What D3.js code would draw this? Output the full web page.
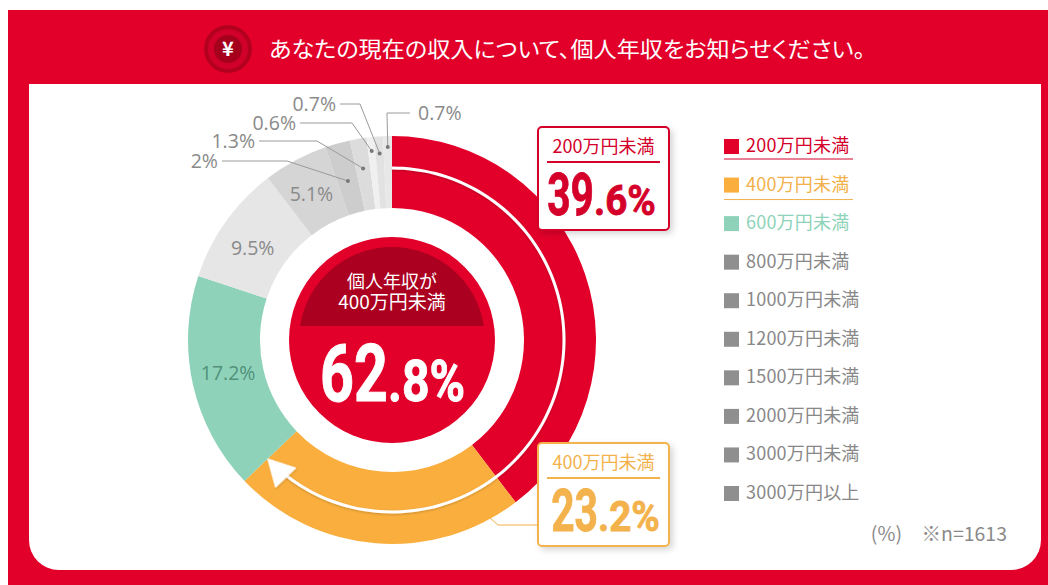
<!DOCTYPE html>
<html><head><meta charset="utf-8">
<style>html,body{margin:0;padding:0;background:#fff;overflow:hidden}svg{display:block}
text{font-family:"Noto Sans CJK JP","Noto Sans",sans-serif}
text.num{font-family:"Open Sans","Noto Sans",sans-serif}
text.big{font-family:"Roboto",sans-serif;font-weight:700}</style>
<script src="https://cdnjs.cloudflare.com/ajax/libs/d3/7.8.5/d3.min.js"></script>
</head><body><svg id="c" width="1048" height="585"></svg>
<script>
const categories=["200万円未満","400万円未満","600万円未満","800万円未満","1000万円未満","1200万円未満","1500万円未満","2000万円未満","3000万円未満","3000万円以上"];
const values=[39.6,23.2,17.2,9.5,5.1,2,1.3,0.6,0.7,0.7];
const sliceColors=["#e2002a","#f9ae3d","#8ed3b9","#e6e6e6","#d5d5d5","#cdcdcd","#dcdcdc","#f0f0f0","#e2e2e2","#e8e8e8"];
const legendColors=["#e2002a","#f9ae3d","#8ed3b9","#8f8f8f","#8f8f8f","#8f8f8f","#8f8f8f","#8f8f8f","#8f8f8f","#8f8f8f"];
const legendTextColors=["#d4002a","#f2b04a","#8ed3b9","#888888","#888888","#888888","#888888","#888888","#888888","#888888"];
const title="あなたの現在の収入について、個人年収をお知らせください。";
const centerLines=["個人年収が","400万円未満"];
const centerValue=["62",".8%"];
const note="(%)　※n=1613";

const svg=d3.select("#c");
const defs=svg.append("defs");
const f=defs.append("filter").attr("id","sh").attr("x","-20%").attr("y","-20%").attr("width","150%").attr("height","150%");
f.append("feDropShadow").attr("dx",3).attr("dy",3).attr("stdDeviation",3).attr("flood-color","#000").attr("flood-opacity",.16);
const f2=defs.append("filter").attr("id","sh2").attr("x","-20%").attr("y","-20%").attr("width","140%").attr("height","140%");
f2.append("feDropShadow").attr("dx",0).attr("dy",1).attr("stdDeviation",1).attr("flood-color","#000").attr("flood-opacity",.2);

svg.append("rect").attr("x",8).attr("y",10).attr("width",1040).attr("height",575).attr("fill","#e2002a");
svg.append("path").attr("d","M29,84H1041V540A30,30 0 0 1 1011,570H59A30,30 0 0 1 29,540Z").attr("fill","#fff");

// header
const hx=228,hy=49;
svg.append("circle").attr("cx",hx).attr("cy",hy).attr("r",24).attr("fill","#b4001f");
svg.append("circle").attr("cx",hx).attr("cy",hy).attr("r",20).attr("fill","#d0002a");
svg.append("circle").attr("cx",hx).attr("cy",hy).attr("r",14).attr("fill","#a5001c");
svg.append("text").attr("x",hx).attr("y",hy+7).attr("text-anchor","middle").attr("fill","#fff").attr("font-size",20).attr("font-weight",700).text("¥");
svg.append("text").attr("x",269).attr("y",hy+8).style("font-feature-settings","'palt'").attr("fill","#fff").attr("font-size",22).attr("textLength",596).attr("lengthAdjust","spacingAndGlyphs").text(title);

// donut
const cx=392,cy=340,R=204,r0=132;
const pie=d3.pie().sort(null).value(d=>d)(values);
const arc=d3.arc().innerRadius(r0).outerRadius(R);
const g=svg.append("g").attr("transform",`translate(${cx},${cy})`);
g.selectAll("path.s").data(pie).join("path").attr("class","s").attr("d",arc).attr("fill",(d,i)=>sliceColors[i]);

const gray="#8a8a8a";
// inside labels: slice index, radius, nudges, colour
[[2,168,0,-4,"#52907a"],[3,166,-4,4,gray],[4,168,-1,2,gray]].forEach(([i,rad,nx,ny,col])=>{
  const [x,y]=d3.pointRadial((pie[i].startAngle+pie[i].endAngle)/2,rad);
  g.append("text").attr("class","num").attr("x",x+nx).attr("y",y+ny+7).attr("text-anchor","middle")
   .attr("font-size",19.5).attr("fill",col).text(values[i]+"%");
});

// leader lines for small slices
const leaders=[[5,165,287,161,222,"end"],[6,174,317,141,259,"end"],[7,190,352,123,300,"end"],[8,187,360,104,340,"end"],[9,193,387,113,410,"start"]];
leaders.forEach(([i,rad,ex,ey,lx,anc])=>{
  const mid=(pie[i].startAngle+pie[i].endAngle)/2;
  const [px,py]=d3.pointRadial(mid,rad);
  const dx=cx+px,dy=cy+py;
  svg.append("path").attr("d",d3.line()([[lx,ey],[ex,ey],[dx,dy]])).attr("fill","none").attr("stroke","#9a9a9a").attr("stroke-width",1);
  svg.append("circle").attr("cx",dx).attr("cy",dy).attr("r",2).attr("fill","#777");
  svg.append("text").attr("class","num").attr("x",anc==="end"?lx-4:lx+8).attr("y",ey+7).attr("text-anchor",anc)
    .attr("font-size",19.5).attr("fill",gray).text(values[i]+"%");
});

// white arrow along first two slices
const endA=pie[1].endAngle, ra=172;
const arrowPts=d3.range(0,61).map(k=>k/60*(endA-0.13));
g.append("path").attr("d",d3.lineRadial().angle(d=>d).radius(ra).curve(d3.curveCatmullRom)(arrowPts))
 .attr("fill","none").attr("stroke","#fff").attr("stroke-width",3).attr("filter","url(#sh2)");
const [tx,ty]=d3.pointRadial(endA,ra);
g.append("path").attr("transform",`translate(${tx},${ty}) rotate(${endA*180/Math.PI+90})`)
 .attr("d","M0,0L-14,26L14,26Z").attr("fill","#fff").attr("stroke","#fff").attr("stroke-width",1).attr("stroke-linejoin","round").attr("filter","url(#sh2)");

// centre
g.append("circle").attr("r",103).attr("fill","#e2002a");
const chord=14, rc=93, hw=Math.sqrt(rc*rc-chord*chord);
g.append("path").attr("d",`M${-hw},${-chord}A${rc},${rc} 0 0 1 ${hw},${-chord}Z`).attr("fill","#ab001f");
svg.append("text").attr("x",cx).attr("y",288).attr("text-anchor","middle").attr("fill","#fff").attr("font-size",18).text(centerLines[0]);
svg.append("text").attr("x",cx).attr("y",309).attr("text-anchor","middle").attr("fill","#fff").attr("font-size",19).text(centerLines[1]);

function bigNum(split,y,a,b,s1,s2,k1,k2,col,sw){
  svg.append("text").attr("class","big").attr("transform",`translate(${split},${y}) scale(${k1},1)`).attr("text-anchor","end").attr("font-size",s1).attr("fill",col).attr("stroke",col).attr("stroke-width",sw).text(a);
  svg.append("text").attr("class","big").attr("transform",`translate(${split},${y}) scale(${k2},1)`).attr("font-size",s2).attr("fill",col).attr("stroke",col).attr("stroke-width",sw).text(b);
}
bigNum(388,401,centerValue[0],centerValue[1],80,58,.74,.83,"#fff",1);

// callouts
function callout(x,y,w,h,col,label,v,split){
  const [a,b]=String(v).split(".");
  svg.append("rect").attr("x",x).attr("y",y).attr("width",w).attr("height",h).attr("rx",4).attr("fill","#fff").attr("stroke",col).attr("stroke-width",2).attr("filter","url(#sh)");
  svg.append("text").attr("x",x+w/2).attr("y",y+26).attr("text-anchor","middle").attr("fill",col).attr("font-size",18).text(label);
  svg.append("line").attr("x1",x+9).attr("x2",x+w-9).attr("y1",y+35).attr("y2",y+35).attr("stroke",col).attr("stroke-width",2);
  bigNum(split,y+88,a,"."+b+"%",60,42,.68,.92,col,.8);
}
svg.append("path").attr("d","M490,518L498,525H538").attr("fill","none").attr("stroke","#f2b04a").attr("stroke-width",1);
callout(538,127,131,103,"#d4002a",categories[0],values[0],594);
callout(538,443,131,103,"#f3b24c",categories[1],values[1],598);

// legend
const ly=d3.scalePoint().domain(categories).range([146,493]);
const lg=svg.append("g");
categories.forEach((c,i)=>{
  const y=ly(c);
  lg.append("rect").attr("x",724).attr("y",y-7).attr("width",15).attr("height",15).attr("fill",legendColors[i]);
  lg.append("text").attr("x",746).attr("y",y+6).attr("font-size",18).attr("letter-spacing",.2).attr("fill",legendTextColors[i]).text(c);
  if(i<2) lg.append("line").attr("x1",724).attr("x2",853).attr("y1",y+(i?15:13)).attr("y2",y+(i?15:13)).attr("stroke",legendTextColors[i]).attr("stroke-width",1);
});
svg.append("text").attr("x",1007).attr("y",541).attr("text-anchor","end").attr("font-size",19.5).attr("fill",gray).text(note);
</script></body></html>
